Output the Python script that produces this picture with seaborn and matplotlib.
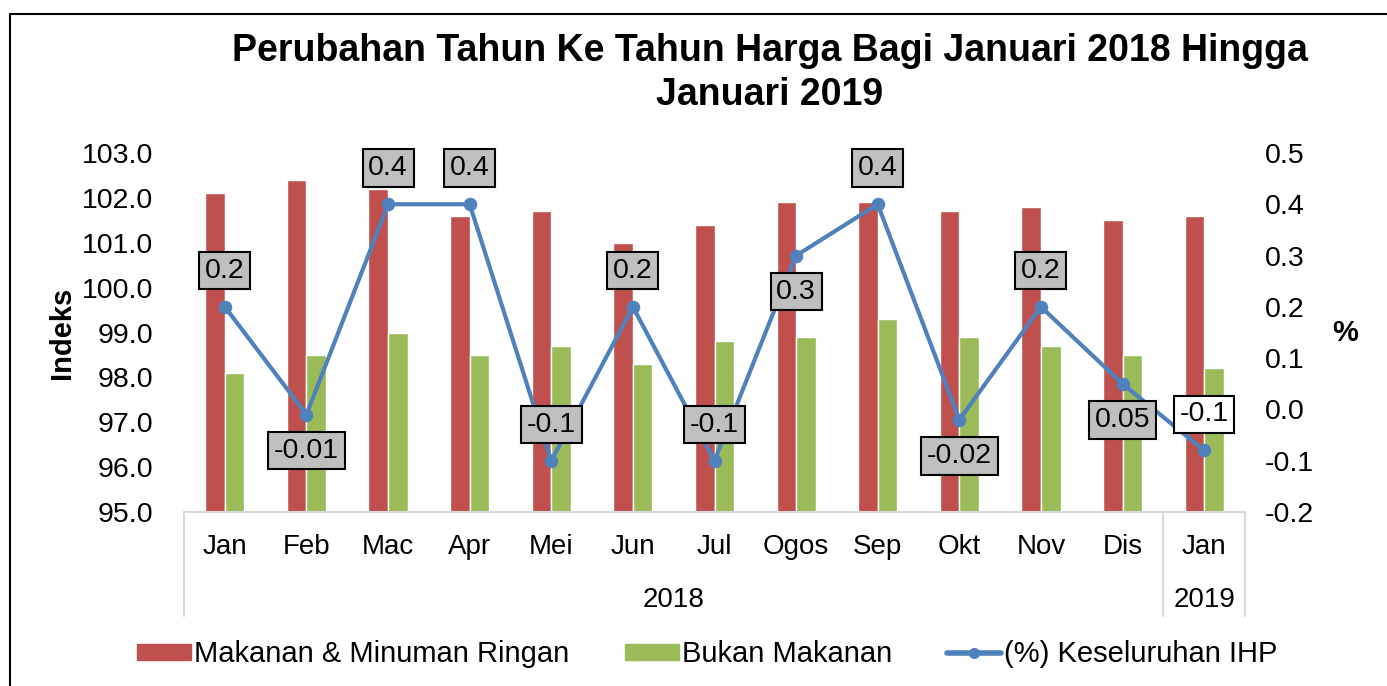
import numpy as np
import pandas as pd
import matplotlib.pyplot as plt
import matplotlib.transforms as mtransforms
from matplotlib.lines import Line2D
import seaborn as sns

months = ['Jan', 'Feb', 'Mac', 'Apr', 'Mei', 'Jun', 'Jul', 'Ogos', 'Sep', 'Okt', 'Nov', 'Dis', 'Jan']
years = ['2018', '2019']
year_counts = [12, 1]
makanan = [102.1, 102.4, 102.2, 101.6, 101.7, 101.0, 101.4, 101.9, 101.9, 101.7, 101.8, 101.5, 101.6]
bukan_makanan = [98.1, 98.5, 99.0, 98.5, 98.7, 98.3, 98.8, 98.9, 99.3, 98.9, 98.7, 98.5, 98.2]
ihp = [0.2, -0.01, 0.4, 0.4, -0.1, 0.2, -0.1, 0.3, 0.4, -0.02, 0.2, 0.05, -0.08]
ihp_labels = ['0.2', '-0.01', '0.4', '0.4', '-0.1', '0.2', '-0.1', '0.3', '0.4', '-0.02', '0.2', '0.05', '-0.1']
label_side = [1, -1, 1, 1, 1, 1, 1, -1, 1, -1, 1, -1, 1]

s_red = 'Makanan & Minuman Ringan'
s_green = 'Bukan Makanan'
s_line = '(%) Keseluruhan IHP'

sns.set_style('white')
plt.rcParams['font.family'] = ['Liberation Sans', 'DejaVu Sans']
plt.rcParams['text.color'] = 'black'
plt.rcParams['xtick.color'] = 'black'
plt.rcParams['ytick.color'] = 'black'
plt.rcParams['axes.labelcolor'] = 'black'

idx = np.arange(len(months))
df = pd.DataFrame({
    'pos': np.concatenate([idx, idx]),
    'value': makanan + bukan_makanan,
    'series': [s_red] * len(idx) + [s_green] * len(idx),
})

fig = plt.figure(figsize=(13.87, 6.86), dpi=100)
ax = fig.add_axes([0.1327, 0.2536, 0.7649, 0.5234])
sns.barplot(data=df, x='pos', y='value', hue='series', palette=['#C0504D', '#9BBB59'],
            width=0.48, gap=0, saturation=1, ax=ax, legend=False)
ax.set_ylim(95, 103)
ax.set_yticks(np.arange(95, 103.1, 1))
ax.set_yticklabels([f'{v:.1f}' for v in np.arange(95, 103.1, 1)])
ax.set_xlim(-0.5, len(months) - 0.5)
ax.set_xticks(idx)
ax.set_xticklabels(months)
ax.set_xlabel('')
ax.set_ylabel('')
ax.tick_params(axis='x', length=0, pad=16, labelsize=20)
ax.tick_params(axis='y', length=0, pad=22, labelsize=20.5)
for sp in ['left', 'right', 'top']:
    ax.spines[sp].set_visible(False)
ax.spines['bottom'].set_color('#D9D9D9')
ax.spines['bottom'].set_linewidth(1.5)

ax2 = ax.twinx()
sns.lineplot(x=idx, y=ihp, ax=ax2, color='#4F81BD', linewidth=3, marker='o',
             markersize=9, markeredgecolor='#4F81BD')
ax2.set_ylim(-0.2, 0.5)
ax2.set_yticks(np.arange(-0.2, 0.51, 0.1))
ax2.set_yticklabels([f'{v:.1f}' for v in np.arange(-0.2, 0.51, 0.1)])
ax2.tick_params(axis='y', length=0, pad=14, labelsize=20.5)
for sp in ax2.spines.values():
    sp.set_visible(False)

for i, (v, lab, side) in enumerate(zip(ihp, ihp_labels, label_side)):
    face = 'white' if i == len(ihp) - 1 else '#BFBFBF'
    ax2.annotate(lab, (i, v), xytext=(0, 26 * side), textcoords='offset points',
                 ha='center', va='center', fontsize=20.5, zorder=5,
                 bbox=dict(boxstyle='square,pad=0.2', fc=face, ec='black', lw=1.5))

# multi-level category axis
trans = mtransforms.blended_transform_factory(ax.transData, ax.transAxes)
start = -0.5
edges = [start]
for y, n in zip(years, year_counts):
    ax.text(start + n / 2, -0.245, y, transform=trans, ha='center', va='center', fontsize=20)
    start += n
    edges.append(start)
for e in edges:
    ax.add_line(Line2D([e, e], [0, -0.29], transform=trans, color='#D9D9D9', lw=1.5, clip_on=False))

fig.text(0.555, 0.925, 'Perubahan Tahun Ke Tahun Harga Bagi Januari 2018 Hingga',
         ha='center', va='center', fontsize=27, fontweight='bold')
fig.text(0.555, 0.862, 'Januari 2019', ha='center', va='center', fontsize=27, fontweight='bold')
fig.text(0.045, 0.515, 'Indeks', rotation=90, ha='center', va='center', fontsize=21, fontweight='bold')
fig.text(0.97, 0.515, '%', ha='center', va='center', fontsize=21, fontweight='bold')

handles = [plt.Rectangle((0, 0), 1, 1, color='#C0504D'),
           plt.Rectangle((0, 0), 1, 1, color='#9BBB59'),
           Line2D([], [], color='#4F81BD', lw=4, marker='o', markersize=7)]
fig.legend(handles, [s_red, s_green, s_line], loc='center', bbox_to_anchor=(0.51, 0.046),
           ncol=3, frameon=False, fontsize=21, handlelength=1.85, handleheight=0.5,
           handletextpad=0.1, columnspacing=1.9)

# chart border (left and top edges visible)
fig.add_artist(Line2D([0.0075, 0.0075], [0, 0.98], transform=fig.transFigure, color='black', lw=1.5))
fig.add_artist(Line2D([0.0075, 1], [0.98, 0.98], transform=fig.transFigure, color='black', lw=1.5))

fig.savefig('out.png', dpi=100)
